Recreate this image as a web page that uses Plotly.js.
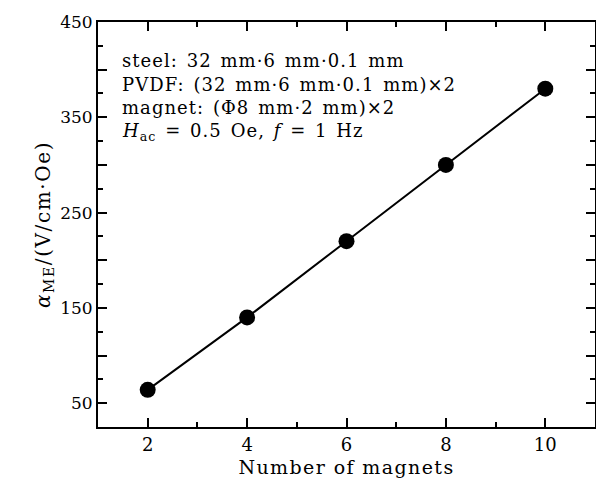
<!DOCTYPE html>
<html><head><meta charset="utf-8">
<script src="https://cdn.plot.ly/plotly-3.0.1.min.js"></script>
<style>
body{margin:0;padding:0;background:#fff}#chart{width:596px;height:484px}
.annotation-text{letter-spacing:1.05px;word-spacing:2px}
.xtitle{letter-spacing:1.4px}
.ytitle{letter-spacing:1.6px}
</style>
</head><body><div id="chart"></div>
<script>
const magnets = [2, 4, 6, 8, 10];
const alphaME = [64, 140, 220, 300, 380];
const yLabelVals = [50, 150, 250, 350, 450];
const yMidVals = [100, 200, 300, 400];
const yAllVals = [50, 100, 150, 200, 250, 300, 350, 400, 450];
const xTickVals = [2, 4, 6, 8, 10];
const noteLines = [
  'steel: 32 mm·6 mm·0.1 mm',
  'PVDF: (32 mm·6 mm·0.1 mm)×2',
  'magnet: (Φ8 mm·2 mm)×2',
  '<i>H</i><sub>ac</sub> = 0.5 Oe, <i>f</i> = 1 Hz'
];
const serif = 'DejaVu Serif';
const trace = {
  x: magnets, y: alphaME, type: 'scatter', mode: 'lines+markers',
  line: {color: '#000', width: 2},
  marker: {color: '#000', size: 16},
  showlegend: false, hoverinfo: 'skip'
};
const ghost2 = {x: [1], y: [25], xaxis: 'x2', yaxis: 'y2', type: 'scatter', mode: 'markers',
  marker: {opacity: 0}, showlegend: false, hoverinfo: 'skip'};
const ghost3 = {x: [1], y: [25], xaxis: 'x', yaxis: 'y3', type: 'scatter', mode: 'markers',
  marker: {opacity: 0}, showlegend: false, hoverinfo: 'skip'};
const common = {ticks: 'inside', tickwidth: 2, tickcolor: '#000', showline: true, linewidth: 2,
  linecolor: '#000', showgrid: false, zeroline: false};
const layout = {
  width: 596, height: 484,
  margin: {l: 98, r: 1, t: 22, b: 57},
  paper_bgcolor: '#fff', plot_bgcolor: '#fff',
  font: {family: serif, color: '#000', size: 17},
  xaxis: Object.assign({}, common, {
    range: [1, 11], tickvals: xTickVals, ticklen: 9,
    minor: {dtick: 1, tick0: 1, ticks: 'inside', ticklen: 5, tickwidth: 2, tickcolor: '#000', showgrid: false},
    tickfont: {family: serif, size: 18},
    title: {text: 'Number of magnets', font: {family: serif, size: 19}, standoff: 7}
  }),
  yaxis: Object.assign({}, common, {
    range: [25, 450], tickvals: yLabelVals, ticklen: 9,
    minor: {dtick: 25, tick0: 25, ticks: 'inside', ticklen: 5, tickwidth: 2, tickcolor: '#000', showgrid: false},
    tickfont: {family: serif, size: 17},
    title: {text: '<i>α</i><sub>ME</sub>/(V/cm·Oe)', font: {family: serif, size: 20}, standoff: 4}
  }),
  yaxis3: {
    range: [25, 450], tickvals: yMidVals, ticks: 'inside', ticklen: 9, tickwidth: 2, tickcolor: '#000',
    showline: false, showgrid: false, zeroline: false, showticklabels: false,
    overlaying: 'y', side: 'left', anchor: 'x'
  },
  xaxis2: Object.assign({}, common, {
    range: [1, 11], tickvals: xTickVals, ticklen: 9, overlaying: 'x', side: 'top', anchor: 'y', showticklabels: false,
    minor: {dtick: 1, tick0: 1, ticks: 'inside', ticklen: 5, tickwidth: 2, tickcolor: '#000', showgrid: false}
  }),
  yaxis2: Object.assign({}, common, {
    range: [25, 450], tickvals: yAllVals, ticklen: 9, overlaying: 'y', side: 'right', anchor: 'x', showticklabels: false,
    minor: {dtick: 25, tick0: 25, ticks: 'inside', ticklen: 5, tickwidth: 2, tickcolor: '#000', showgrid: false}
  }),
  annotations: noteLines.map((t, i) => ({
    text: t, xref: 'paper', yref: 'paper', x: 0.045, y: 0.905 - i * 0.0585,
    xanchor: 'left', yanchor: 'middle', align: 'left', showarrow: false,
    font: {family: serif, size: 18, color: '#000'}
  }))
};
Plotly.newPlot('chart', [trace, ghost2, ghost3], layout, {displayModeBar: false, staticPlot: true});
</script></body></html>
